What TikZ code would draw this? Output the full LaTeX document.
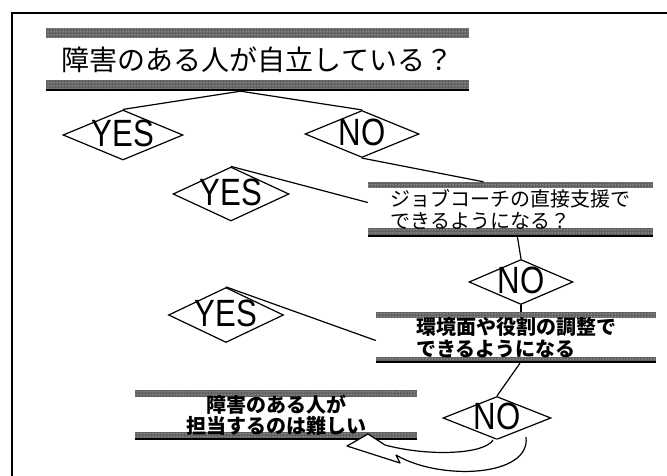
\documentclass[tikz,border=0pt]{standalone}
\usepackage{fontspec}
\setmainfont{Liberation Sans}
\newfontfamily\jp{Noto Sans CJK JP}
\newfontfamily\ynfont[FakeStretch=0.82]{Liberation Sans}
\usetikzlibrary{shapes.geometric,patterns}
\definecolor{bandgray}{gray}{0.38}
\tikzset{
  conn/.style={line width=1.2pt, black},
  dia/.style={draw, shape=diamond, line width=1.2pt, inner sep=0pt, minimum width=#1},
  yn/.style={font=\ynfont\fontsize{38}{38}\selectfont, yshift=2pt},
  bandbox/.style n args={4}{inner sep=0pt, minimum width=#3, minimum height=#4,
    path picture={
      \fill[bandgray] (path picture bounding box.north west) rectangle ([yshift=-#1]path picture bounding box.north east);
      \fill[pattern=dots, pattern color=white] (path picture bounding box.north west) rectangle ([yshift=-#1]path picture bounding box.north east);
      \fill[bandgray] ([yshift=#2]path picture bounding box.south west) rectangle (path picture bounding box.south east);
      \fill[pattern=dots, pattern color=white] ([yshift=#2]path picture bounding box.south west) rectangle (path picture bounding box.south east);
      \draw[line width=2pt] ([yshift=1pt]path picture bounding box.south west) -- ([yshift=1pt]path picture bounding box.south east);
    }},
}
\begin{document}
\begin{tikzpicture}[x=1pt,y=-1pt]
\useasboundingbox (0,0) rectangle (667,476);
% frame
\draw[line width=1.3pt] (12,476) -- (12,13) -- (667,13);

% boxes
\node[bandbox={10pt}{11pt}{423pt}{63pt}, font=\jp\fontsize{28}{30}\selectfont] (title) at (257.5,59.5) {障害のある人が自立している？};
\node[bandbox={6pt}{9pt}{285pt}{55pt}, font=\jp\fontsize{20}{21.5}\selectfont, align=left] (box1) at (510.5,209.5) {ジョブコーチの直接支援で\\できるようになる？};
\node[bandbox={6pt}{6pt}{280pt}{51pt}, font=\jp\bfseries\fontsize{20}{22}\selectfont, align=left] (box2) at (516,337.5) {環境面や役割の調整で\\できるようになる};
\node[bandbox={7pt}{8pt}{282pt}{50pt}, font=\jp\bfseries\fontsize{20}{20.5}\selectfont, align=center] (box3) at (276,415) {障害のある人が\\担当するのは難しい};

% diamonds
\node[dia=120pt, minimum height=50pt, label={[yn]center:YES}] (y1) at (123,135) {};
\node[dia=114pt, minimum height=47pt, label={[yn]center:NO}] (n1) at (362,134) {};
\node[dia=116pt, minimum height=54pt, label={[yn]center:YES}] (y2) at (231,194) {};
\node[dia=104pt, minimum height=45pt, label={[yn]center:NO}] (n2) at (521,282) {};
\node[dia=115pt, minimum height=55pt, label={[yn]center:YES}] (y3) at (226,315) {};
\node[dia=108pt, minimum height=43pt, label={[yn]center:NO}] (n3) at (497,418) {};

% connectors
\coordinate (t0) at ([xshift=-17pt]title.south);
\draw[conn] (y1.north) -- (t0) -- (n1.north);
\draw[conn] (n1.south) -- ([xshift=-27pt]box1.north);
\draw[conn] (y2.north) -- ([yshift=7pt]box1.west);
\draw[conn] ([xshift=7pt]box1.south) -- (n2.north);
\draw[conn] (n2.south) -- ([xshift=5pt]box2.north);
\draw[conn] (y3.north) -- ([yshift=-3pt]box2.west);
\draw[conn] ([xshift=4pt]box2.south) -- (n3.north);

% curved hollow arrow from n3 to box3
\draw[conn, fill=white, line join=round]
  (493,440) .. controls (485,454) and (430,457) .. (385,445)
  -- (368,434) -- (347,446) -- (400,463) -- (396,455)
  .. controls (440,481) and (531,477) .. (526,437);
\end{tikzpicture}
\end{document}
